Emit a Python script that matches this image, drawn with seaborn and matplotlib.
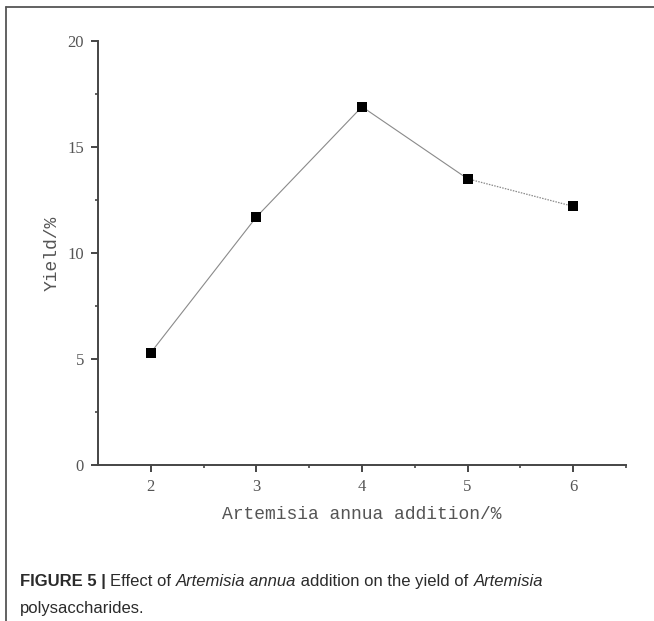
import matplotlib
matplotlib.use("Agg")
import matplotlib.pyplot as plt
from matplotlib.lines import Line2D
import seaborn as sns
import pandas as pd

# Artemisia annua addition (%) and polysaccharide yield (%)
addition = [2, 3, 4, 5, 6]
yield_pct = [5.3, 11.7, 16.9, 13.5, 12.2]
x_ticks = [2, 3, 4, 5, 6]
y_ticks = [0, 5, 10, 15, 20]

df = pd.DataFrame({"addition": addition, "yield": yield_pct})

sns.set_theme(style="ticks")
plt.rcParams["font.family"] = ["Liberation Serif", "DejaVu Serif"]

fig = plt.figure(figsize=(6.54, 6.21), dpi=100)
ax = fig.add_axes([98 / 654, 1 - 465 / 621, 528 / 654, 424 / 621])

line_col = "#8a8a8a"
# solid segments up to 5 %, dotted segment from 5 % to 6 %
sns.lineplot(data=df.iloc[:4], x="addition", y="yield", ax=ax,
             color=line_col, linewidth=0.8, marker=None)
sns.lineplot(data=df.iloc[3:], x="addition", y="yield", ax=ax,
             color=line_col, linewidth=0.9, linestyle=(0, (1.2, 1.0)),
             marker=None)
sns.scatterplot(data=df, x="addition", y="yield", ax=ax, marker="s",
                s=52, color="black", edgecolor="black", linewidth=0,
                zorder=5)

ax.set_xlim(1.5, 6.5)
ax.set_ylim(0, 20)
ax.set_xticks(x_ticks)
ax.set_yticks(y_ticks)
ax.set_xticks([2.5, 3.5, 4.5, 5.5, 6.5], minor=True)
ax.set_yticks([2.5, 7.5, 12.5, 17.5], minor=True)

spine_col = "#454545"
for side in ["top", "right"]:
    ax.spines[side].set_visible(False)
for side in ["left", "bottom"]:
    ax.spines[side].set_color(spine_col)
    ax.spines[side].set_linewidth(1.4)

ax.tick_params(which="major", direction="out", length=5, width=1.4,
               color=spine_col, labelsize=12, labelcolor="#555555", pad=5)
ax.tick_params(which="minor", direction="out", length=2.5, width=1.2,
               color=spine_col)

label_font = dict(family=["Liberation Mono", "DejaVu Sans Mono"],
                  size=13, color="#555555")
ax.set_xlabel("Artemisia annua addition/%", labelpad=8, **label_font)
ax.set_ylabel("Yield/%", labelpad=5, **label_font)
ax.grid(False)

# page frame: top rule and left rule
frame_col = "#555555"
fig.add_artist(Line2D([6 / 654, 1.0], [1 - 7 / 621, 1 - 7 / 621],
                      transform=fig.transFigure, color=frame_col, lw=1.3))
fig.add_artist(Line2D([6 / 654, 6 / 654], [0.0, 1 - 7 / 621],
                      transform=fig.transFigure, color=frame_col, lw=1.3))

# caption with mixed bold / italic runs
cap_size = 12
cap = dict(family=["Liberation Sans", "DejaVu Sans"], size=cap_size,
           color="#2b2b2b")
runs = [("FIGURE 5 | ", "bold", "normal"),
        ("Effect of ", "normal", "normal"),
        ("Artemisia annua", "normal", "italic"),
        (" addition on the yield of ", "normal", "normal"),
        ("Artemisia", "normal", "italic")]
y0 = 1 - 586 / 621
texts = [fig.text(20 / 654, y0, txt, weight=w, style=st, va="baseline",
                  ha="left", **cap) for txt, w, st in runs]
fig.canvas.draw()
r = fig.canvas.get_renderer()
# lay out runs one after another along the baseline
cur = 20 / 654
for t in texts:
    t.set_position((cur, y0))
    cur += t.get_window_extent(renderer=r).width / fig.bbox.width
fig.text(20 / 654, 1 - 613 / 621, "polysaccharides.", va="baseline",
         ha="left", **cap)

fig.savefig("out.png", dpi=100)
